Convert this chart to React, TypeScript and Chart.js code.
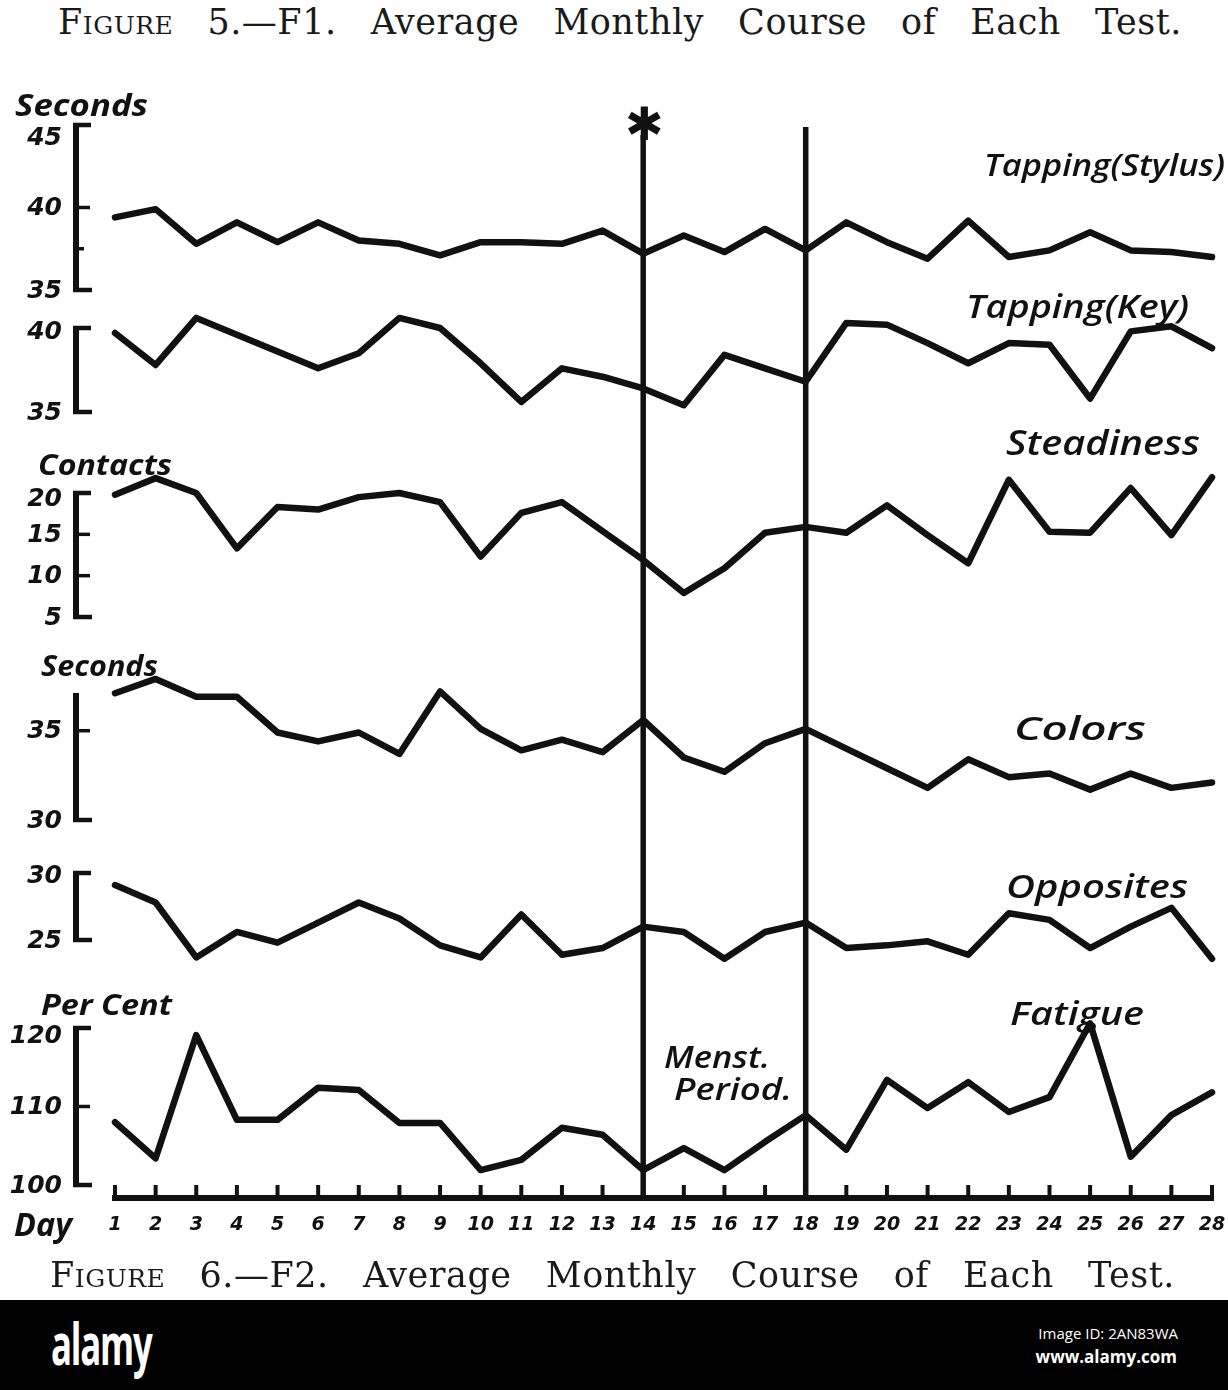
import React, { useEffect, useRef } from 'react';
import { Chart, registerables } from 'chart.js';

Chart.register(...registerables);

// Days of the month (x axis tick labels)
const days = [1, 2, 3, 4, 5, 6, 7, 8, 9, 10, 11, 12, 13, 14, 15, 16, 17, 18, 19, 20, 21, 22, 23, 24, 25, 26, 27, 28];

// Series
const tappingStylus = [39.4, 39.9, 37.8, 39.1, 37.9, 39.1, 38.0, 37.8, 37.1, 37.9, 37.9, 37.8, 38.6, 37.2, 38.3, 37.3, 38.7, 37.4, 39.1, 37.9, 36.9, 39.2, 37.0, 37.4, 38.5, 37.4, 37.3, 37.0];
const tappingKey = [39.7, 37.8, 40.6, 39.6, 38.6, 37.6, 38.5, 40.6, 40.0, 37.9, 35.6, 37.6, 37.1, 36.4, 35.4, 38.4, 37.6, 36.8, 40.3, 40.2, 39.1, 37.9, 39.1, 39.0, 35.8, 39.8, 40.1, 38.8];
const steadiness = [19.8, 21.8, 20.0, 13.3, 18.3, 18.0, 19.5, 20.0, 18.9, 12.3, 17.6, 18.9, 15.4, 11.9, 7.9, 10.9, 15.2, 15.9, 15.2, 18.5, 14.9, 11.5, 21.6, 15.3, 15.2, 20.6, 14.9, 21.9];
const colors = [37.1, 37.9, 36.9, 36.9, 34.9, 34.4, 34.9, 33.7, 37.2, 35.1, 33.9, 34.5, 33.8, 35.6, 33.5, 32.7, 34.3, 35.1, 34.0, 32.9, 31.8, 33.4, 32.4, 32.6, 31.7, 32.6, 31.8, 32.1];
const opposites = [29.1, 27.8, 23.7, 25.6, 24.8, 26.3, 27.8, 26.6, 24.6, 23.7, 26.9, 23.9, 24.4, 26.0, 25.6, 23.6, 25.6, 26.3, 24.4, 24.6, 24.9, 23.9, 27.0, 26.5, 24.4, 26.0, 27.4, 23.6];
const fatigue = [108.0, 103.4, 119.1, 108.3, 108.3, 112.4, 112.1, 107.9, 107.9, 101.9, 103.2, 107.3, 106.4, 101.9, 104.7, 101.9, 105.5, 108.9, 104.5, 113.4, 109.8, 113.1, 109.3, 111.2, 120.6, 103.6, 108.9, 111.8];

// Tick labels of each little axis
const stylusTicks = [45, 40, 35];
const keyTicks = [40, 35];
const steadinessTicks = [20, 15, 10, 5];
const colorsTicks = [35, 30];
const oppositesTicks = [30, 25];
const fatigueTicks = [120, 110, 100];

// Days marked by the vertical lines (menstrual period)
const periodDays = [14, 18];

const INK = '#111';
const HAND = '"Open Sans", "DejaVu Sans", sans-serif';
const NUM = '"DejaVu Sans", sans-serif';

const panels = [
  { id: 'yStylus', name: 'Tapping(Stylus)', unit: 'Seconds', data: tappingStylus, ticks: stylusTicks, top: 45, bottom: 35, minor: [37.5], topFoot: true },
  { id: 'yKey', name: 'Tapping(Key)', unit: '', data: tappingKey, ticks: keyTicks, top: 40, bottom: 35, minor: [], topFoot: true },
  { id: 'ySteady', name: 'Steadiness', unit: 'Contacts', data: steadiness, ticks: steadinessTicks, top: 20, bottom: 5, minor: [], topFoot: true },
  { id: 'yColors', name: 'Colors', unit: 'Seconds', data: colors, ticks: colorsTicks, top: 37, bottom: 30, minor: [], topFoot: false },
  { id: 'yOpp', name: 'Opposites', unit: '', data: opposites, ticks: oppositesTicks, top: 30, bottom: 25, minor: [], topFoot: true },
  { id: 'yFatigue', name: 'Fatigue', unit: 'Per Cent', data: fatigue, ticks: fatigueTicks, top: 120, bottom: 100, minor: [], topFoot: true },
];

// layout: where each bracket sits on the page, and where its texts go
const AREA = { top: 90, bottom: 1198, left: 115, right: 1212, width: 1228, height: 1300 };
const bands = [
  { topPx: 125, bottomPx: 290, topShift: 12, name: [984, 176, 241, 30], unit: [15, 116, 133, 30] },
  { topPx: 328, bottomPx: 412, topShift: 3, name: [966, 318, 223, 32], unit: null },
  { topPx: 493, bottomPx: 617, topShift: 5, name: [1006, 455, 194, 34], unit: [38, 475, 134, 28] },
  { topPx: 695, bottomPx: 820, topShift: 0, name: [1014, 740, 132, 32], unit: [41, 676, 117, 28] },
  { topPx: 873, bottomPx: 940, topShift: 2, name: [1006, 898, 182, 32], unit: null },
  { topPx: 1028, bottomPx: 1185, topShift: 7, name: [1010, 1025, 134, 32], unit: [41, 1015, 131, 28] },
];
const BAR_X = 76;
const markerTops = [135, 127];

function scaleRange(i: number) {
  const p = panels[i];
  const b = bands[i];
  const h = AREA.bottom - AREA.top;
  const ft = (b.topPx - AREA.top) / h;
  const fb = (b.bottomPx - AREA.top) / h;
  const range = (p.top - p.bottom) / (fb - ft);
  const max = p.top + ft * range;
  return { min: max - range, max };
}

function fitText(ctx: CanvasRenderingContext2D, text: string, x: number, y: number, width: number, font: string) {
  ctx.font = font;
  const w = ctx.measureText(text).width;
  ctx.save();
  ctx.translate(x, y);
  ctx.scale(width / w, 1);
  ctx.textAlign = 'left';
  ctx.textBaseline = 'alphabetic';
  ctx.fillText(text, 0, 0);
  ctx.restore();
}

const figurePlugin = {
  id: 'figure',
  beforeDatasetsDraw(chart: any) {
    const { ctx, scales } = chart;
    const x = scales.x;
    ctx.save();
    ctx.strokeStyle = INK;
    ctx.lineWidth = 5.5;
    periodDays.forEach((d, i) => {
      const px = x.getPixelForValue(d);
      ctx.beginPath();
      ctx.moveTo(px, markerTops[i]);
      ctx.lineTo(px, AREA.bottom);
      ctx.stroke();
    });
    // asterisk above the first line
    ctx.fillStyle = INK;
    ctx.font = `bold 46px ${NUM}`;
    ctx.textAlign = 'center';
    ctx.textBaseline = 'middle';
    ctx.fillText('\u2731', x.getPixelForValue(periodDays[0]) + 1, 128);
    ctx.restore();
  },
  afterDraw(chart: any) {
    const { ctx, scales } = chart;
    const x = scales.x;
    ctx.save();
    ctx.strokeStyle = INK;
    ctx.fillStyle = INK;
    ctx.lineCap = 'butt';

    panels.forEach((p, i) => {
      const y = scales[p.id];
      const b = bands[i];
      const yt = y.getPixelForValue(p.top);
      const yb = y.getPixelForValue(p.bottom);
      ctx.lineWidth = 6;
      ctx.beginPath();
      ctx.moveTo(BAR_X, yt - 2);
      ctx.lineTo(BAR_X, yb + 2);
      ctx.stroke();
      ctx.lineWidth = 4.5;
      if (p.topFoot) {
        ctx.beginPath();
        ctx.moveTo(BAR_X - 3, yt);
        ctx.lineTo(BAR_X + 15, yt);
        ctx.stroke();
      }
      ctx.beginPath();
      ctx.moveTo(BAR_X - 3, yb);
      ctx.lineTo(BAR_X + 16, yb);
      ctx.stroke();
      ctx.lineWidth = 3.5;
      p.ticks.forEach((t) => {
        if (t === p.top || t === p.bottom) return;
        const py = y.getPixelForValue(t);
        ctx.beginPath();
        ctx.moveTo(BAR_X, py);
        ctx.lineTo(BAR_X + 14, py);
        ctx.stroke();
      });
      p.minor.forEach((t) => {
        const py = y.getPixelForValue(t);
        ctx.beginPath();
        ctx.moveTo(BAR_X, py);
        ctx.lineTo(BAR_X + 8, py);
        ctx.stroke();
      });
      ctx.font = `italic bold 25px ${NUM}`;
      ctx.textAlign = 'right';
      ctx.textBaseline = 'middle';
      p.ticks.forEach((t) => {
        const shift = t === p.top ? b.topShift : 0;
        ctx.fillText(String(t), BAR_X - 14, y.getPixelForValue(t) + 1 + shift);
      });
      const [nx, ny, nw, ns] = b.name;
      fitText(ctx, p.name, nx, ny, nw, `italic 600 ${ns}px ${HAND}`);
      if (b.unit) {
        const [ux, uy, uw, us] = b.unit;
        fitText(ctx, p.unit, ux, uy, uw, `italic bold ${us}px ${HAND}`);
      }
    });

    fitText(ctx, 'Menst.', 664, 1068, 106, `italic 600 30px ${HAND}`);
    fitText(ctx, 'Period.', 674, 1100, 118, `italic 600 30px ${HAND}`);

    // x axis
    const left = x.getPixelForValue(days[0]);
    const right = x.getPixelForValue(days[days.length - 1]);
    ctx.lineWidth = 6;
    ctx.beginPath();
    ctx.moveTo(left - 3, AREA.bottom);
    ctx.lineTo(right + 2, AREA.bottom);
    ctx.stroke();
    ctx.lineWidth = 4;
    ctx.font = `italic bold 19px ${NUM}`;
    ctx.textAlign = 'center';
    ctx.textBaseline = 'alphabetic';
    days.forEach((d) => {
      const px = x.getPixelForValue(d);
      ctx.beginPath();
      ctx.moveTo(px, AREA.bottom);
      ctx.lineTo(px, AREA.bottom - 13);
      ctx.stroke();
      ctx.fillText(String(d), px, 1230);
    });
    fitText(ctx, 'Day', 14, 1236, 58, `italic bold 32px ${HAND}`);
    ctx.restore();
  },
};

export default function App() {
  const canvasRef = useRef<HTMLCanvasElement>(null);

  useEffect(() => {
    if (!canvasRef.current) return;

    const yScales: Record<string, any> = {};
    panels.forEach((p, i) => {
      const r = scaleRange(i);
      yScales[p.id] = { type: 'linear', display: false, min: r.min, max: r.max };
    });

    const chart = new Chart(canvasRef.current, {
      type: 'line',
      data: {
        datasets: panels.map((p) => ({
          label: p.name,
          yAxisID: p.id,
          data: p.data.map((v, i) => ({ x: days[i], y: v })),
          borderColor: INK,
          borderWidth: 6.5,
          pointRadius: 0,
          tension: 0,
          borderJoinStyle: 'round' as const,
          borderCapStyle: 'round' as const,
          clip: false as any,
        })),
      },
      options: {
        animation: false,
        responsive: false,
        events: [],
        layout: {
          padding: {
            top: AREA.top,
            bottom: AREA.height - AREA.bottom,
            left: AREA.left,
            right: AREA.width - AREA.right,
          },
        },
        plugins: {
          legend: { display: false },
          tooltip: { enabled: false },
        },
        scales: {
          x: { type: 'linear', display: false, min: days[0], max: days[days.length - 1] },
          ...yScales,
        },
      },
      plugins: [figurePlugin],
    });

    return () => {
      chart.destroy();
    };
  }, []);

  const caption: React.CSSProperties = {
    position: 'absolute',
    fontFamily: '"DejaVu Serif", "Liberation Serif", serif',
    fontSize: 35,
    letterSpacing: 0.5,
    lineHeight: '38px',
    color: '#1a1a1a',
    whiteSpace: 'nowrap',
    textAlign: 'justify',
    textAlignLast: 'justify',
  };

  return (
    <div style={{ position: 'absolute', left: 0, top: 0, width: 1228, height: 1390, background: '#fff', overflow: 'hidden' }}>
      <div style={{ ...caption, top: 3, left: 58, width: 1124 }}>
        <span style={{ fontVariant: 'small-caps' }}>Figure</span> 5.—F1. Average Monthly Course of Each Test.
      </div>
      <canvas ref={canvasRef} width={AREA.width} height={AREA.height} style={{ position: 'absolute', left: 0, top: 0, width: AREA.width, height: AREA.height }} />
      <div style={{ ...caption, top: 1256, left: 50, width: 1125 }}>
        <span style={{ fontVariant: 'small-caps' }}>Figure</span> 6.—F2. Average Monthly Course of Each Test.
      </div>
      <div style={{ position: 'absolute', left: 0, top: 1300, width: 1228, height: 90, background: '#000', color: '#fff', fontFamily: '"Open Sans", sans-serif' }}>
        <div style={{ position: 'absolute', left: 51, top: 10, fontSize: 58, fontWeight: 700, letterSpacing: -2, transform: 'scaleX(0.6)', transformOrigin: 'left top', lineHeight: '66px' }}>alamy</div>
        <div style={{ position: 'absolute', right: 50, top: 23, fontSize: 15, lineHeight: '20px', textAlign: 'right' }}>Image ID: 2AN83WA</div>
        <div style={{ position: 'absolute', right: 51, top: 45, fontSize: 17, fontWeight: 700, lineHeight: '24px', textAlign: 'right' }}>www.alamy.com</div>
      </div>
    </div>
  );
}
